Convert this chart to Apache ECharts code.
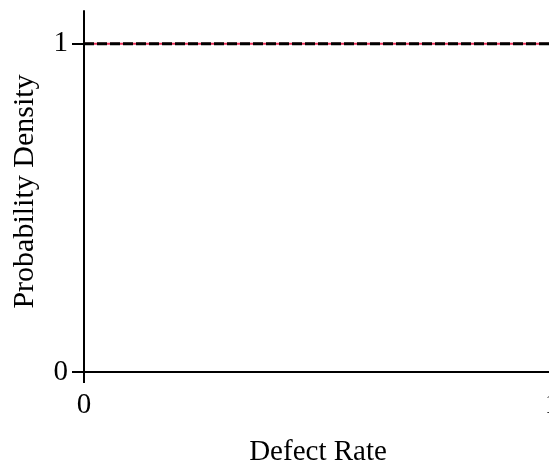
<!DOCTYPE html>
<html>
<head>
<meta charset="utf-8">
<script src="https://cdn.jsdelivr.net/npm/echarts@6/dist/echarts.min.js"></script>
<style>
    html, body { margin: 0; padding: 0; background: #fff; }
    #chart { width: 549px; height: 466px; }
</style>
</head>
<body>
<div id="chart"></div>
<script>
    // uniform density on [0, 1]
    var defectRate = [0, 1];
    var densitySolid = [1, 1];
    var densityDashed = [1, 1];
    var xTicks = [0, 1];
    var yTicks = [0, 1];

    var serif = '"Liberation Serif", "Times New Roman", serif';

    function pairs(xs, ys) {
        var out = [];
        for (var i = 0; i < xs.length; i++) {
            out.push([xs[i], ys[i]]);
        }
        return out;
    }

    var mChart = echarts.init(document.getElementById('chart'));
    var option = {
        animation: false,
        // plot runs a little past the right edge, like the source figure
        grid: { left: 84, right: -3, top: 11, bottom: 94, containLabel: false, outerBoundsMode: 'none' },
        xAxis: [{
            type: 'value',
            min: 0,
            max: 1,
            name: 'Defect Rate',
            nameLocation: 'middle',
            nameGap: 66,
            nameTextStyle: { fontFamily: serif, fontSize: 29, color: '#000' },
            axisLine: { show: true, onZero: false, lineStyle: { color: '#000', width: 2 } },
            axisTick: { show: true, length: 11, customValues: xTicks, lineStyle: { color: '#000', width: 2 } },
            axisLabel: { customValues: xTicks, fontFamily: serif, fontSize: 29, color: '#000', margin: 19, hideOverlap: false },
            splitLine: { show: false }
        }, {
            type: 'value',
            position: 'top',
            min: 0,
            max: 1,
            axisLine: { show: true, lineStyle: { color: '#000', width: 2 } },
            axisTick: { show: false },
            axisLabel: { show: false },
            splitLine: { show: false }
        }],
        yAxis: {
            type: 'value',
            min: 0,
            max: 1.1,
            name: 'Probability Density',
            nameLocation: 'middle',
            nameGap: 44,
            nameTextStyle: { fontFamily: serif, fontSize: 30, color: '#000' },
            axisLine: { show: true, onZero: false, lineStyle: { color: '#000', width: 2 } },
            axisTick: { show: true, length: 12, customValues: yTicks, lineStyle: { color: '#000', width: 2 } },
            axisLabel: { customValues: yTicks, fontFamily: serif, fontSize: 29, color: '#000', margin: 16 },
            splitLine: { show: false }
        },
        series: [{
            type: 'line',
            data: pairs(defectRate, densitySolid),
            showSymbol: false,
            lineStyle: { color: '#e8315a', width: 2, type: 'solid' }
        }, {
            type: 'line',
            data: pairs(defectRate, densityDashed),
            showSymbol: false,
            lineStyle: { color: '#000', width: 3, type: [10, 3] }
        }]
    };
    mChart.setOption(option);
</script>
</body>
</html>
